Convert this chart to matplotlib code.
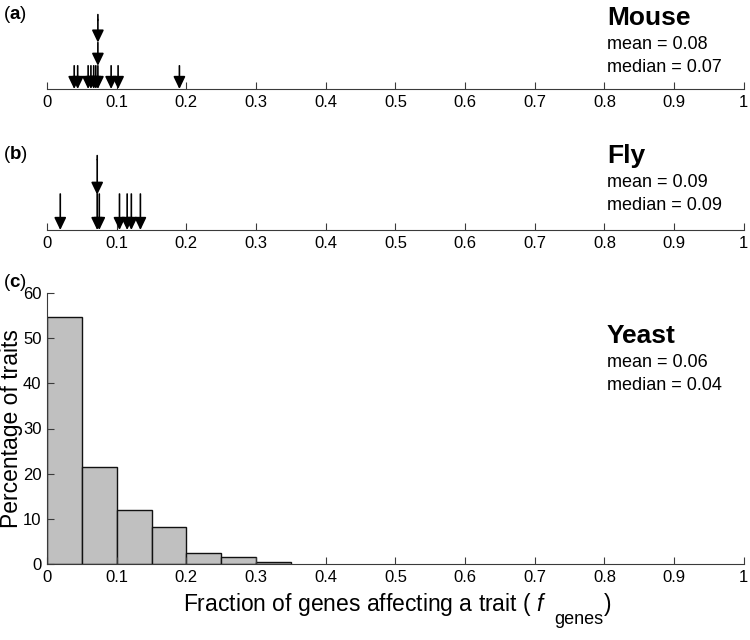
import numpy as np
import matplotlib
matplotlib.use('Agg')
import matplotlib.pyplot as plt

plt.rcParams['font.family'] = ['Liberation Sans', 'DejaVu Sans']
plt.rcParams['mathtext.fontset'] = 'custom'
plt.rcParams['mathtext.rm'] = 'Liberation Sans'
plt.rcParams['mathtext.it'] = 'Liberation Sans:italic'
plt.rcParams['mathtext.bf'] = 'Liberation Sans:bold'

# fraction of genes affecting a trait, one arrow per trait (repeats get stacked)
mouse_values = [0.039, 0.044, 0.059, 0.063, 0.067, 0.070, 0.073, 0.073, 0.073, 0.092, 0.102, 0.190]
fly_values = [0.019, 0.072, 0.072, 0.075, 0.104, 0.115, 0.121, 0.134]

# yeast histogram, bins of width 0.05
yeast_bin_edges = [0.0, 0.05, 0.10, 0.15, 0.20, 0.25, 0.30, 0.35]
yeast_percent = [54.6, 21.4, 11.9, 8.2, 2.4, 1.5, 0.5]

species_stats = {
    'Mouse': ('0.08', '0.07'),
    'Fly': ('0.09', '0.09'),
    'Yeast': ('0.06', '0.04'),
}

x_ticks = np.round(np.arange(0, 1.01, 0.1), 1)
x_ticklabels = ['0' if t == 0 else ('1' if t == 1 else f'{t:.1f}') for t in x_ticks]
y_ticks = [0, 10, 20, 30, 40, 50, 60]

AXIS_COLOR = '#3a3a3a'
TICK_FS = 12


def draw_arrows(ax, values, short_len, step):
    """Draw a downward arrow per value; repeated values are stacked on top."""
    seen = {}
    for v in values:
        k = seen.get(v, 0)
        seen[v] = k + 1
        y_end = k * step
        y_start = y_end + short_len if k == 0 else y_end + step
        ax.annotate('', xy=(v, y_end), xytext=(v, y_start),
                    arrowprops=dict(arrowstyle='-|>,head_length=0.75,head_width=0.36',
                                    color='k', lw=1.2, shrinkA=0, shrinkB=0))


def style_strip(ax):
    ax.set_xlim(0, 1)
    ax.set_ylim(0, 1)
    for s in ['top', 'left', 'right']:
        ax.spines[s].set_visible(False)
    ax.spines['bottom'].set_color(AXIS_COLOR)
    ax.set_yticks([])
    ax.set_xticks(x_ticks)
    ax.set_xticklabels(x_ticklabels)
    ax.tick_params(axis='x', direction='in', length=5, width=0.8, color=AXIS_COLOR,
                   labelsize=TICK_FS, pad=4)
    ax.patch.set_alpha(0)


fig = plt.figure(figsize=(7.5, 6.4), dpi=100)

ax_a = fig.add_axes([0.0627, 1 - 89 / 640, 0.929, 80 / 640])
ax_b = fig.add_axes([0.0627, 1 - 230 / 640, 0.929, 80 / 640])
ax_c = fig.add_axes([0.0627, 1 - 564 / 640, 0.929, 271 / 640])

style_strip(ax_a)
style_strip(ax_b)
draw_arrows(ax_a, mouse_values, 0.29, 0.29)
ax_a.annotate('', xy=(0.073, 0.86), xytext=(0.073, 0.93),
              arrowprops=dict(arrowstyle='-', color='k', lw=1.2, shrinkA=0, shrinkB=0))
draw_arrows(ax_b, fly_values, 0.45, 0.44)
ax_b.annotate('', xy=(0.072, 0.88), xytext=(0.072, 0.93),
              arrowprops=dict(arrowstyle='-', color='k', lw=1.2, shrinkA=0, shrinkB=0))

# histogram
edges = np.array(yeast_bin_edges)
ax_c.bar(edges[:-1], yeast_percent, width=np.diff(edges), align='edge',
         color='#c0c0c0', edgecolor='#111111', linewidth=1.0)
ax_c.set_xlim(0, 1)
ax_c.set_ylim(0, 60)
for s in ['top', 'right']:
    ax_c.spines[s].set_visible(False)
for s in ['left', 'bottom']:
    ax_c.spines[s].set_color(AXIS_COLOR)
ax_c.set_xticks(x_ticks)
ax_c.set_xticklabels(x_ticklabels)
ax_c.set_yticks(y_ticks)
ax_c.tick_params(axis='both', direction='in', length=5, width=0.8, color=AXIS_COLOR,
                 labelsize=TICK_FS, pad=4)
ax_c.set_ylabel('Percentage of traits', fontsize=16.5, labelpad=0)

# panel letters
for letter, yb in [('a', 19), ('b', 159), ('c', 287)]:
    fig.text(0.004, 1 - yb / 640, rf'($\mathbf{{{letter}}}$)', fontsize=13.5, va='baseline')

# species labels and stats
label_x = 607 / 750
title_base = {'Mouse': 25, 'Fly': 163, 'Yeast': 343}
for name, (mean, median) in species_stats.items():
    yb = title_base[name]
    fig.text(label_x, 1 - yb / 640, name, fontsize=19, fontweight='bold', va='baseline')
    fig.text(label_x, 1 - (yb + 24) / 640, f'mean = {mean}', fontsize=13, va='baseline')
    fig.text(label_x, 1 - (yb + 47) / 640, f'median = {median}', fontsize=13, va='baseline')

# x label with a lowered subscript, pieced together
renderer = fig.canvas.get_renderer()
x_base = 611
main = fig.text(0, 1 - x_base / 640, r'Fraction of genes affecting a trait ( $f$',
                fontsize=16.5, va='baseline')
main_w = main.get_window_extent(renderer).width
sub = fig.text(0, 1 - (x_base + 13) / 640, 'genes', fontsize=13, va='baseline')
sub_w = sub.get_window_extent(renderer).width
close = fig.text(0, 1 - x_base / 640, ')', fontsize=16.5, va='baseline')
close_w = close.get_window_extent(renderer).width
gap = 8
total = main_w + gap + sub_w + close_w
x0 = 397 - total / 2
main.set_x(x0 / 750)
sub.set_x((x0 + main_w + gap) / 750)
close.set_x((x0 + main_w + gap + sub_w) / 750)

fig.savefig('out.png', dpi=100)
